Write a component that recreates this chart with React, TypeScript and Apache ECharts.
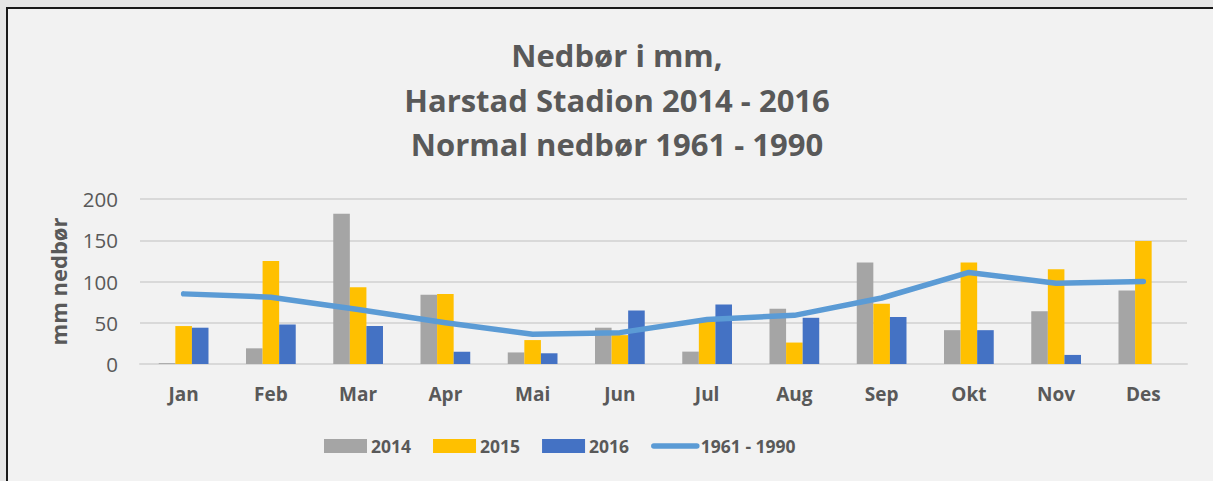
import React, { useEffect, useRef } from "react";
import * as echarts from "echarts";

const months = ["Jan", "Feb", "Mar", "Apr", "Mai", "Jun", "Jul", "Aug", "Sep", "Okt", "Nov", "Des"];
const y2014 = [1, 19, 182, 84, 14, 44, 15, 67, 123, 41, 64, 89];
const y2015 = [46, 125, 93, 85, 29, 35, 52, 26, 73, 123, 115, 149];
const y2016 = [44, 48, 46, 15, 13, 65, 72, 56, 57, 41, 11, 0];
const normal = [85, 81, 66, 50, 36, 38, 54, 59, 80, 111, 98, 100];
const yTicks = { min: 0, max: 200, interval: 50 };

const FONT = "'Open Sans', sans-serif";
const TXT = "#595959";

export default function App() {
  const ref = useRef<HTMLDivElement>(null);
  useEffect(() => {
    if (!ref.current) return;
    const chart = echarts.init(ref.current, null, { renderer: "svg" });
    chart.setOption({
      animation: false,
      backgroundColor: "transparent",
      textStyle: { fontFamily: FONT },
      title: {
        text: "Nedbør i mm,\nHarstad Stadion 2014 - 2016\nNormal nedbør 1961 - 1990",
        left: 612,
        top: 28,
        textAlign: "center",
        textStyle: { fontFamily: FONT, fontSize: 31, fontWeight: "bold", color: TXT, lineHeight: 44.5 },
      },
      grid: { left: 140, right: 26, top: 199, bottom: 117 },
      legend: {
        bottom: 21,
        left: 319,
        itemWidth: 43,
        itemHeight: 14,
        itemGap: 22,
        textStyle: { fontFamily: FONT, fontSize: 17.5, fontWeight: "bold", color: TXT, padding: [0, 0, 0, -1] },
        data: [
          { name: "2014", icon: "rect" },
          { name: "2015", icon: "rect" },
          { name: "2016", icon: "rect" },
          {
            name: "1961 - 1990",
            itemStyle: { color: "transparent", borderColor: "transparent", borderWidth: 0, opacity: 0 },
            lineStyle: { color: "#5b9bd5", width: 5.5, cap: "round" },
          },
        ],
      },
      xAxis: {
        type: "category",
        data: months,
        axisLine: { lineStyle: { color: "#d9d9d9", width: 2 } },
        axisTick: { show: false },
        axisLabel: { fontFamily: FONT, fontSize: 19, fontWeight: "bold", color: TXT, margin: 20 },
      },
      yAxis: {
        type: "value",
        min: yTicks.min,
        max: yTicks.max,
        interval: yTicks.interval,
        name: "mm nedbør",
        nameLocation: "middle",
        nameGap: 71,
        nameRotate: 90,
        nameTextStyle: { fontFamily: FONT, fontSize: 22, fontWeight: "bold", color: TXT },
        axisLine: { show: false },
        axisTick: { show: false },
        axisLabel: { fontFamily: FONT, fontSize: 20.5, color: TXT, margin: 22 },
        splitLine: { lineStyle: { color: "#d9d9d9", width: 2 } },
      },
      series: [
        { name: "2014", type: "bar", data: y2014, barGap: "0%", barCategoryGap: "43%", itemStyle: { color: "#a5a5a5" } },
        { name: "2015", type: "bar", data: y2015, barGap: "0%", barCategoryGap: "43%", itemStyle: { color: "#ffc000" } },
        { name: "2016", type: "bar", data: y2016, barGap: "0%", barCategoryGap: "43%", itemStyle: { color: "#4472c4" } },
        {
          name: "1961 - 1990",
          type: "line",
          data: normal,
          symbol: "none",
          lineStyle: { color: "#5b9bd5", width: 5.5, cap: "round", join: "round" },
          itemStyle: { color: "#5b9bd5" },
        },
      ],
    });
    return () => chart.dispose();
  }, []);
  return (
    <div style={{ position: "fixed", left: 0, top: 0, width: 1213, height: 481, background: "#e6e6e6", overflow: "hidden" }}>
      <div
        style={{
          position: "absolute",
          left: 6,
          top: 7,
          width: 1230,
          height: 500,
          border: "2px solid #1a1a1a",
          background: "#f2f2f2",
        }}
      />
      <div ref={ref} style={{ position: "absolute", left: 0, top: 0, width: 1213, height: 481 }} />
    </div>
  );
}
